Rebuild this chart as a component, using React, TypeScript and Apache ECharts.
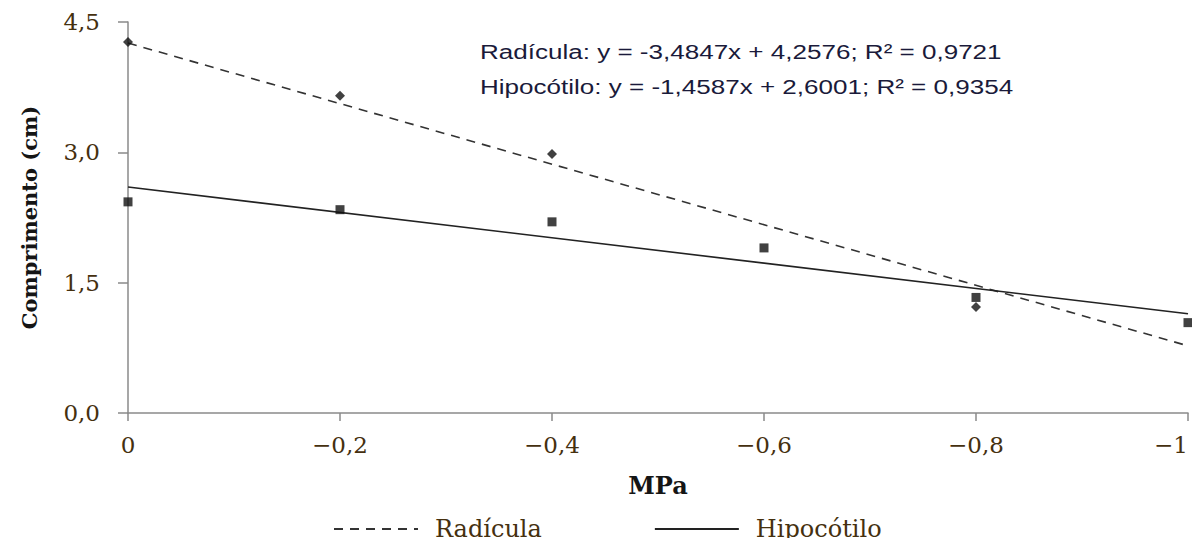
import React, { useEffect, useRef } from "react";
import * as echarts from "echarts";

const seriesNames = ["Radícula", "Hipocótilo"];
const radiculaX = [0, -0.2, -0.4, -0.8];
const radiculaY = [4.27, 3.65, 2.98, 1.22];
const hipocotiloX = [0, -0.2, -0.4, -0.6, -0.8, -1];
const hipocotiloY = [2.43, 2.34, 2.2, 1.9, 1.33, 1.04];
const slopes = [-3.4847, -1.4587];
const intercepts = [4.2576, 2.6001];
const r2 = [0.9721, 0.9354];
const xRange = [0, -1];

const fmt = (v: number, d: number) => v.toFixed(d).replace(".", ",");

export default function App() {
  const ref = useRef<HTMLDivElement>(null);
  useEffect(() => {
    if (!ref.current) return;
    const chart = echarts.init(ref.current, null, { renderer: "svg" });
    const serif = "DejaVu Serif";
    const labelColor = "#45300f";
    const trend = (i: number) =>
      xRange.map((x) => [x, intercepts[i] + slopes[i] * Math.abs(x)]);
    const eqText = (i: number) =>
      `${seriesNames[i]}: y = ${fmt(slopes[i], 4)}x + ${fmt(intercepts[i], 4)}; R² = ${fmt(r2[i], 4)}`;
    chart.setOption({
      animation: false,
      backgroundColor: "#ffffff",
      grid: {
        left: 128,
        right: 12,
        top: 22,
        bottom: 133,
        containLabel: false,
        outerBoundsMode: "none",
      },
      xAxis: {
        type: "value",
        min: -1,
        max: 0,
        interval: 0.2,
        inverse: true,
        name: "MPa",
        nameLocation: "middle",
        nameGap: 60,
        nameTextStyle: { fontFamily: serif, fontWeight: "bold", fontSize: 24, color: "#151515" },
        axisLine: { show: true, lineStyle: { color: "#8a8a8a", width: 1.5 } },
        axisTick: { show: true, length: 8, lineStyle: { color: "#8a8a8a", width: 1.5 } },
        splitLine: { show: false },
        axisLabel: {
          fontFamily: serif,
          fontSize: 23,
          color: labelColor,
          margin: 20,
          alignMinLabel: "right",
          formatter: (v: number) => {
            if (Math.abs(v) < 1e-9) return "0";
            const a = Math.round(Math.abs(v) * 10) / 10;
            return "\u2212" + String(a).replace(".", ",");
          },
        },
      },
      yAxis: {
        type: "value",
        min: 0,
        max: 4.5,
        interval: 1.5,
        name: "Comprimento (cm)",
        nameLocation: "middle",
        nameGap: 88,
        nameTextStyle: { fontFamily: serif, fontWeight: "bold", fontSize: 21, color: "#151515" },
        axisLine: { show: true, lineStyle: { color: "#8a8a8a", width: 1.5 } },
        axisTick: { show: true, length: 10, lineStyle: { color: "#8a8a8a", width: 1.5 } },
        splitLine: { show: false },
        axisLabel: {
          fontFamily: serif,
          fontSize: 23,
          color: labelColor,
          margin: 28,
          formatter: (v: number) => fmt(v, 1),
        },
      },
      legend: {
        bottom: 0,
        left: 328,
        itemWidth: 84,
        itemHeight: 12,
        itemGap: 112,
        itemStyle: { opacity: 0 },
        data: seriesNames.map((n) => ({ name: n })),
        textStyle: { fontFamily: serif, fontSize: 24, color: labelColor, padding: [0, 0, 0, 12] },
      },
      graphic: [
        {
          type: "text",
          x: 480,
          y: 52,
          scaleX: 1.24,
          style: {
            text: eqText(0),
            font: "21px 'Liberation Sans'",
            fill: "#1a1a3a",
            textAlign: "left",
            textVerticalAlign: "middle",
          },
        },
        {
          type: "text",
          x: 480,
          y: 87,
          scaleX: 1.24,
          style: {
            text: eqText(1),
            font: "21px 'Liberation Sans'",
            fill: "#1a1a3a",
            textAlign: "left",
            textVerticalAlign: "middle",
          },
        },
      ],
      series: [
        {
          name: seriesNames[0],
          type: "line",
          data: trend(0),
          symbol: "none",
          lineStyle: { color: "#333", width: 1.6, type: [9, 7] },
          itemStyle: { color: "#333" },
          z: 2,
        },
        {
          name: seriesNames[1],
          type: "line",
          data: trend(1),
          symbol: "none",
          lineStyle: { color: "#222", width: 1.6, type: "solid" },
          itemStyle: { color: "#222" },
          z: 2,
        },
        {
          name: "radPts",
          type: "scatter",
          data: radiculaX.map((x, i) => [x, radiculaY[i]]),
          symbol: "diamond",
          symbolSize: 10,
          itemStyle: { color: "#111" },
          z: 3,
        },
        {
          name: "hipPts",
          type: "scatter",
          data: hipocotiloX.map((x, i) => [x, hipocotiloY[i]]),
          symbol: "rect",
          symbolSize: 9,
          itemStyle: { color: "#111" },
          clip: false,
          z: 3,
        },
      ],
    });
    return () => chart.dispose();
  }, []);
  return <div ref={ref} style={{ width: 1200, height: 546, margin: -8 }} />;
}
